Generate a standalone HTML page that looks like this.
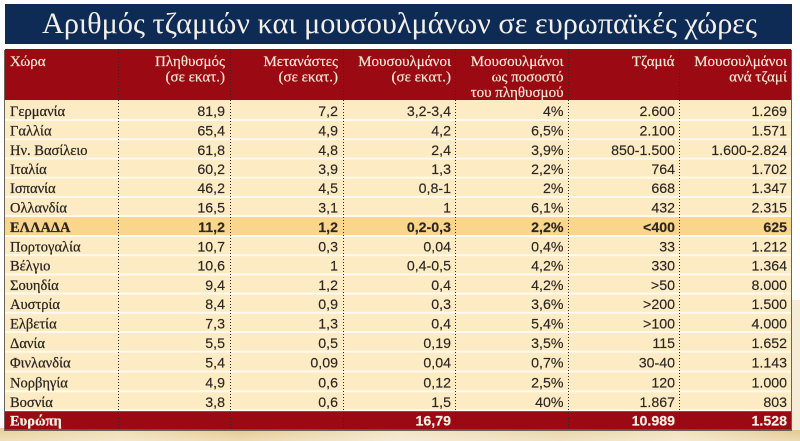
<!DOCTYPE html>
<html>
<head>
<meta charset="utf-8">
<style>
html,body{margin:0;padding:0;background:#fff;}
svg{display:block;}
.n{font-family:"Liberation Serif","DejaVu Serif",serif;font-size:14.5px;fill:#2b2623;stroke:#2b2623;stroke-width:0.25;}
.v{font-family:"Liberation Sans","DejaVu Sans",sans-serif;font-size:14.2px;fill:#2b2623;text-anchor:end;stroke:#2b2623;stroke-width:0.15;}
.b{font-weight:bold;}
.h{font-family:"Liberation Serif","DejaVu Serif",serif;font-size:15px;fill:#f5e8d4;text-anchor:end;stroke:#f5e8d4;stroke-width:0.2;}
.t{font-family:"Liberation Serif","DejaVu Serif",serif;font-size:30px;fill:#f3f0ea;}
.w{fill:#fbf3e4;stroke:#fbf3e4;font-weight:bold;}
</style>
</head>
<body>
<svg width="800" height="441" viewBox="0 0 800 441" xmlns="http://www.w3.org/2000/svg">
<defs>
<linearGradient id="sand" x1="0" y1="0" x2="1" y2="0">
<stop offset="0" stop-color="#e6cf96"/>
<stop offset="0.15" stop-color="#efdcb0"/>
<stop offset="0.3" stop-color="#e3c88c"/>
<stop offset="0.5" stop-color="#f1e3c2"/>
<stop offset="0.7" stop-color="#e8d3a2"/>
<stop offset="0.85" stop-color="#f0e0b8"/>
<stop offset="1" stop-color="#e2c68a"/>
</linearGradient>
<linearGradient id="fade" x1="0" y1="0" x2="0" y2="1">
<stop offset="0" stop-color="#ffffff" stop-opacity="0"/>
<stop offset="1" stop-color="#ffffff" stop-opacity="0.35"/>
</linearGradient>
</defs>
<rect x="0" y="0" width="800" height="441" fill="#ffffff"/>
<rect x="0" y="428" width="800" height="13" fill="url(#sand)"/>
<rect x="0" y="428" width="800" height="13" fill="url(#fade)"/>
<rect x="792" y="300" width="8" height="130" fill="#f6ecd6"/>

<!-- title -->
<rect x="5" y="4" width="787" height="40" fill="#0d2b55"/>
<text class="t" x="42" y="33" textLength="715" lengthAdjust="spacingAndGlyphs">Αριθμός τζαμιών και μουσουλμάνων σε ευρωπαϊκές χώρες</text>

<!-- table shadow -->
<rect x="4" y="50" width="788" height="381" fill="#6b6258"/>
<!-- header -->
<rect x="5" y="49" width="786" height="51" fill="#9b0a13"/>
<!-- body -->
<rect x="5" y="100" width="786" height="310" fill="#fcebc3"/>
<!-- white separators -->
<g fill="#fffaf0">
<rect x="5" y="119" width="786" height="2"/>
<rect x="5" y="138.3" width="786" height="2"/>
<rect x="5" y="157.5" width="786" height="2"/>
<rect x="5" y="176.7" width="786" height="2"/>
<rect x="5" y="195.9" width="786" height="2"/>
<rect x="5" y="215.1" width="786" height="2"/>
<rect x="5" y="235" width="786" height="2"/>
<rect x="5" y="254.2" width="786" height="2"/>
<rect x="5" y="273.4" width="786" height="2"/>
<rect x="5" y="292.6" width="786" height="2"/>
<rect x="5" y="311.8" width="786" height="2"/>
<rect x="5" y="331" width="786" height="2"/>
<rect x="5" y="350.7" width="786" height="2"/>
<rect x="5" y="370.5" width="786" height="2"/>
<rect x="5" y="390.3" width="786" height="2"/>
<rect x="5" y="409.3" width="786" height="2"/>
</g>
<!-- Greece row highlight -->
<rect x="5" y="217.1" width="786" height="17.9" fill="#f9d68c"/>
<!-- total row -->
<rect x="5" y="411.3" width="786" height="18" fill="#9b0a13"/>

<!-- dotted dividers -->
<g stroke="#2e2626" stroke-width="1" stroke-dasharray="1 2">
<line x1="118.5" y1="49" x2="118.5" y2="429"/>
<line x1="230.5" y1="49" x2="230.5" y2="429"/>
<line x1="343.5" y1="49" x2="343.5" y2="429"/>
<line x1="455.5" y1="49" x2="455.5" y2="429"/>
<line x1="568.5" y1="49" x2="568.5" y2="429"/>
<line x1="679.5" y1="49" x2="679.5" y2="429"/>
</g>

<!-- header text -->
<text class="h" x="10" y="66" style="text-anchor:start">Χώρα</text>
<text class="h" x="225" y="66">Πληθυσμός</text>
<text class="h" x="225" y="81.5">(σε εκατ.)</text>
<text class="h" x="338" y="66">Μετανάστες</text>
<text class="h" x="338" y="81.5">(σε εκατ.)</text>
<text class="h" x="451" y="66">Μουσουλμάνοι</text>
<text class="h" x="451" y="81.5">(σε εκατ.)</text>
<text class="h" x="563.5" y="66">Μουσουλμάνοι</text>
<text class="h" x="563.5" y="81.5">ως ποσοστό</text>
<text class="h" x="563.5" y="97">του πληθυσμού</text>
<text class="h" x="674.5" y="66">Τζαμιά</text>
<text class="h" x="787" y="66">Μουσουλμάνοι</text>
<text class="h" x="787" y="81.5">ανά τζαμί</text>

<!-- rows -->
<g>
<text class="n" x="10" y="116">Γερμανία</text>
<text class="v" x="225" y="116">81,9</text><text class="v" x="338" y="116">7,2</text><text class="v" x="451" y="116">3,2-3,4</text><text class="v" x="563.5" y="116">4%</text><text class="v" x="675" y="116">2.600</text><text class="v" x="787" y="116">1.269</text>

<text class="n" x="10" y="135.5">Γαλλία</text>
<text class="v" x="225" y="135.5">65,4</text><text class="v" x="338" y="135.5">4,9</text><text class="v" x="451" y="135.5">4,2</text><text class="v" x="563.5" y="135.5">6,5%</text><text class="v" x="675" y="135.5">2.100</text><text class="v" x="787" y="135.5">1.571</text>

<text class="n" x="10" y="154.8">Ην. Βασίλειο</text>
<text class="v" x="225" y="154.8">61,8</text><text class="v" x="338" y="154.8">4,8</text><text class="v" x="451" y="154.8">2,4</text><text class="v" x="563.5" y="154.8">3,9%</text><text class="v" x="675" y="154.8">850-1.500</text><text class="v" x="787" y="154.8">1.600-2.824</text>

<text class="n" x="10" y="174">Ιταλία</text>
<text class="v" x="225" y="174">60,2</text><text class="v" x="338" y="174">3,9</text><text class="v" x="451" y="174">1,3</text><text class="v" x="563.5" y="174">2,2%</text><text class="v" x="675" y="174">764</text><text class="v" x="787" y="174">1.702</text>

<text class="n" x="10" y="193.2">Ισπανία</text>
<text class="v" x="225" y="193.2">46,2</text><text class="v" x="338" y="193.2">4,5</text><text class="v" x="451" y="193.2">0,8-1</text><text class="v" x="563.5" y="193.2">2%</text><text class="v" x="675" y="193.2">668</text><text class="v" x="787" y="193.2">1.347</text>

<text class="n" x="10" y="212.4">Ολλανδία</text>
<text class="v" x="225" y="212.4">16,5</text><text class="v" x="338" y="212.4">3,1</text><text class="v" x="451" y="212.4">1</text><text class="v" x="563.5" y="212.4">6,1%</text><text class="v" x="675" y="212.4">432</text><text class="v" x="787" y="212.4">2.315</text>

<text class="n b" x="10" y="231.8">ΕΛΛΑΔΑ</text>
<text class="v b" x="225" y="231.8">11,2</text><text class="v b" x="338" y="231.8">1,2</text><text class="v b" x="451" y="231.8">0,2-0,3</text><text class="v b" x="563.5" y="231.8">2,2%</text><text class="v b" x="675" y="231.8">&lt;400</text><text class="v b" x="787" y="231.8">625</text>

<text class="n" x="10" y="251.5">Πορτογαλία</text>
<text class="v" x="225" y="251.5">10,7</text><text class="v" x="338" y="251.5">0,3</text><text class="v" x="451" y="251.5">0,04</text><text class="v" x="563.5" y="251.5">0,4%</text><text class="v" x="675" y="251.5">33</text><text class="v" x="787" y="251.5">1.212</text>

<text class="n" x="10" y="270.7">Βέλγιο</text>
<text class="v" x="225" y="270.7">10,6</text><text class="v" x="338" y="270.7">1</text><text class="v" x="451" y="270.7">0,4-0,5</text><text class="v" x="563.5" y="270.7">4,2%</text><text class="v" x="675" y="270.7">330</text><text class="v" x="787" y="270.7">1.364</text>

<text class="n" x="10" y="289.9">Σουηδία</text>
<text class="v" x="225" y="289.9">9,4</text><text class="v" x="338" y="289.9">1,2</text><text class="v" x="451" y="289.9">0,4</text><text class="v" x="563.5" y="289.9">4,2%</text><text class="v" x="675" y="289.9">&gt;50</text><text class="v" x="787" y="289.9">8.000</text>

<text class="n" x="10" y="309.1">Αυστρία</text>
<text class="v" x="225" y="309.1">8,4</text><text class="v" x="338" y="309.1">0,9</text><text class="v" x="451" y="309.1">0,3</text><text class="v" x="563.5" y="309.1">3,6%</text><text class="v" x="675" y="309.1">&gt;200</text><text class="v" x="787" y="309.1">1.500</text>

<text class="n" x="10" y="328.3">Ελβετία</text>
<text class="v" x="225" y="328.3">7,3</text><text class="v" x="338" y="328.3">1,3</text><text class="v" x="451" y="328.3">0,4</text><text class="v" x="563.5" y="328.3">5,4%</text><text class="v" x="675" y="328.3">&gt;100</text><text class="v" x="787" y="328.3">4.000</text>

<text class="n" x="10" y="348">Δανία</text>
<text class="v" x="225" y="348">5,5</text><text class="v" x="338" y="348">0,5</text><text class="v" x="451" y="348">0,19</text><text class="v" x="563.5" y="348">3,5%</text><text class="v" x="675" y="348">115</text><text class="v" x="787" y="348">1.652</text>

<text class="n" x="10" y="367.7">Φινλανδία</text>
<text class="v" x="225" y="367.7">5,4</text><text class="v" x="338" y="367.7">0,09</text><text class="v" x="451" y="367.7">0,04</text><text class="v" x="563.5" y="367.7">0,7%</text><text class="v" x="675" y="367.7">30-40</text><text class="v" x="787" y="367.7">1.143</text>

<text class="n" x="10" y="387.3">Νορβηγία</text>
<text class="v" x="225" y="387.3">4,9</text><text class="v" x="338" y="387.3">0,6</text><text class="v" x="451" y="387.3">0,12</text><text class="v" x="563.5" y="387.3">2,5%</text><text class="v" x="675" y="387.3">120</text><text class="v" x="787" y="387.3">1.000</text>

<text class="n" x="10" y="406.8">Βοσνία</text>
<text class="v" x="225" y="406.8">3,8</text><text class="v" x="338" y="406.8">0,6</text><text class="v" x="451" y="406.8">1,5</text><text class="v" x="563.5" y="406.8">40%</text><text class="v" x="675" y="406.8">1.867</text><text class="v" x="787" y="406.8">803</text>

<text class="n w" x="10" y="425.3">Ευρώπη</text>
<text class="v w" x="451" y="425.3">16,79</text><text class="v w" x="675" y="425.3">10.989</text><text class="v w" x="787" y="425.3">1.528</text>
</g>
</svg>
</body>
</html>
